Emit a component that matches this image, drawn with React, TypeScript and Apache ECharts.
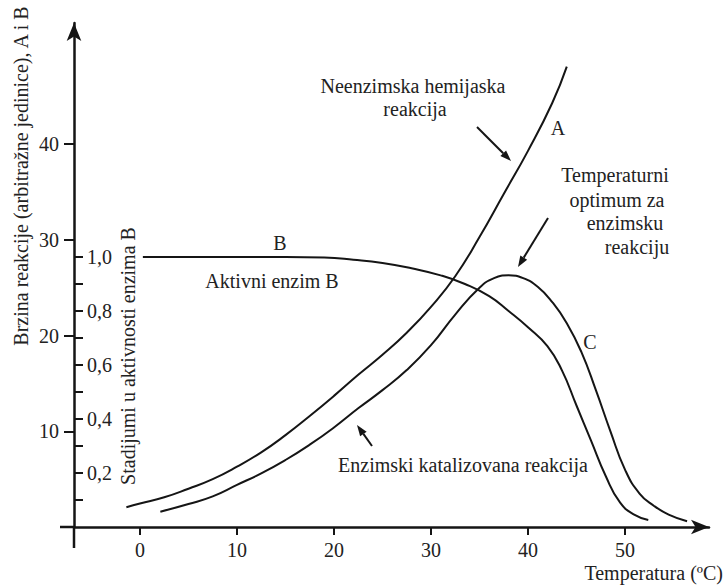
import React, { useEffect, useRef } from "react";
import * as echarts from "echarts";

// Temperature ticks (°C)
const xTicks = [0, 10, 20, 30, 40, 50];
// Reaction rate ticks (arbitrary units)
const rateTicks = [10, 20, 30, 40];
// Enzyme activity ticks
const activityTicks = [0.1, 0.2, 0.3, 0.4, 0.5, 0.6, 0.7, 0.8, 0.9, 1.0];
const activityLabels = [0.2, 0.4, 0.6, 0.8, 1.0];

// A: non-enzymatic chemical reaction [temp, rate]
const curveA: [number, number][] = [
  [-1.4, 2.06], [0, 2.45], [2.5, 3.1], [5, 4.0], [7.5, 5.0], [10, 6.3], [12.5, 7.8],
  [15, 9.6], [17.5, 11.6], [20, 13.7], [22.5, 15.9], [25, 18.0], [27.5, 20.3],
  [30, 23.0], [32.5, 26.2], [35, 30.3], [37.5, 34.8], [40, 39.3], [42.5, 44.3], [44, 48.1],
];

// C: enzyme-catalysed reaction [temp, rate]
const curveC: [number, number][] = [
  [2.1, 1.6], [5, 2.4], [7.5, 3.2], [10, 4.4], [12.5, 5.6], [15, 7.0], [17.5, 8.6],
  [20, 10.4], [22.5, 12.4], [25, 14.3], [27.5, 16.4], [30, 19.0], [32.5, 22.2],
  [35, 25.0], [36.5, 26.0], [38, 26.3], [39.5, 26.0], [41, 25.1], [42.5, 23.5],
  [44, 21.3], [45.5, 18.3], [47, 14.3], [48.5, 10.0], [50, 6.0], [51.5, 3.5],
  [53, 2.2], [54.5, 1.3], [56.4, 0.6],
];

// B: active enzyme fraction [temp, activity]
const curveB: [number, number][] = [
  [0.3, 1.0], [5, 1.0], [10, 1.0], [15, 1.0], [19, 0.998], [22, 0.99], [25, 0.978],
  [28, 0.958], [31, 0.932], [33.5, 0.9], [36, 0.855], [38, 0.8], [40, 0.74],
  [42, 0.67], [43.5, 0.58], [45, 0.45], [46.5, 0.32], [48, 0.19], [49.5, 0.09],
  [51, 0.045], [52.4, 0.026],
];

const FONT = '"Liberation Serif", "Times New Roman", serif';
const INK = "#151515";
const TXT = "#222";

function label(text: string, x: number, y: number, rotate = 0, align = "center"): any {
  return {
    type: "text",
    x,
    y,
    rotation: rotate,
    silent: true,
    style: {
      text,
      x: 0,
      y: 0,
      align,
      verticalAlign: "middle",
      fontFamily: FONT,
      fontSize: 20,
      fill: TXT,
    },
  };
}

function arrow(x1: number, y1: number, x2: number, y2: number): any {
  const ang = Math.atan2(y2 - y1, x2 - x1);
  const len = 11;
  const half = 4;
  const bx = x2 - len * Math.cos(ang);
  const by = y2 - len * Math.sin(ang);
  const px = -Math.sin(ang);
  const py = Math.cos(ang);
  return {
    type: "group",
    silent: true,
    children: [
      {
        type: "line",
        shape: { x1, y1, x2: bx, y2: by },
        style: { stroke: INK, lineWidth: 2 },
      },
      {
        type: "polygon",
        shape: {
          points: [
            [x2, y2],
            [bx + px * half, by + py * half],
            [bx - px * half, by - py * half],
          ],
        },
        style: { fill: INK },
      },
    ],
  };
}

export default function App() {
  const ref = useRef<HTMLDivElement>(null);
  useEffect(() => {
    if (!ref.current) return;
    const chart = echarts.init(ref.current, null, { renderer: "svg" });
    const lineSeries = (name: string, data: [number, number][], yAxisIndex: number) => ({
      name,
      type: "line",
      data,
      yAxisIndex,
      smooth: 0.5,
      showSymbol: false,
      symbol: "none",
      lineStyle: { color: INK, width: 2 },
      silent: true,
    });
    chart.setOption({
      animation: false,
      backgroundColor: "#fff",
      grid: { left: 74, right: 16, top: 23, bottom: 59, outerBoundsMode: "none" },
      xAxis: {
        type: "value",
        min: -6.8,
        max: 58.66,
        splitLine: { show: false },
        axisLine: {
          onZero: false,
          symbol: ["none", "arrow"],
          symbolSize: [11, 18],
          lineStyle: { color: INK, width: 2.5 },
        },
        axisTick: {
          customValues: xTicks,
          length: 8,
          lineStyle: { color: INK, width: 2 },
        },
        axisLabel: {
          customValues: xTicks,
          margin: 13,
          fontFamily: FONT,
          fontSize: 20,
          color: TXT,
        },
      },
      yAxis: [
        {
          type: "value",
          min: 0,
          max: 52.66,
          splitLine: { show: false },
          axisLine: {
            show: true,
            onZero: false,
            symbol: ["none", "arrow"],
            symbolSize: [11, 18],
            lineStyle: { color: INK, width: 2.5 },
          },
          axisTick: {
            show: true,
            customValues: rateTicks,
            length: 10,
            lineStyle: { color: INK, width: 2 },
          },
          axisLabel: {
            customValues: rateTicks,
            margin: 15,
            fontFamily: FONT,
            fontSize: 20,
            color: TXT,
          },
        },
        {
          type: "value",
          position: "left",
          offset: 0,
          min: 0,
          max: 1.8667,
          splitLine: { show: false },
          axisLine: { show: false, onZero: false },
          axisTick: {
            show: true,
            inside: true,
            customValues: activityTicks,
            length: 9,
            lineStyle: { color: INK, width: 2 },
          },
          axisLabel: {
            inside: true,
            customValues: activityLabels,
            margin: 13,
            fontFamily: FONT,
            fontSize: 20,
            color: TXT,
            formatter: (v: number) => v.toFixed(1).replace(".", ","),
          },
        },
      ],
      series: [
        lineSeries("A", curveA, 0),
        lineSeries("C", curveC, 0),
        lineSeries("B", curveB, 1),
      ],
      graphic: [
        // axis extensions past the origin
        { type: "line", silent: true, shape: { x1: 60, y1: 527, x2: 74, y2: 527 }, style: { stroke: INK, lineWidth: 2.5 } },
        { type: "line", silent: true, shape: { x1: 74, y1: 527, x2: 74, y2: 548 }, style: { stroke: INK, lineWidth: 2.5 } },
        label("Brzina reakcije (arbitražne jedinice), A i B", 21, 176, Math.PI / 2),
        label("Stadijumi u aktivnosti enzima B", 128, 356, Math.PI / 2),
        label("Neenzimska hemijaska", 413, 86),
        label("reakcija", 415, 109),
        label("A", 558, 128),
        label("Temperaturni", 615, 175),
        label("optimum za", 617, 200),
        label("enzimsku", 625, 223),
        label("reakciju", 637, 247),
        label("B", 280, 243),
        label("Aktivni enzim B", 272, 281),
        label("C", 590, 342),
        label("Enzimski katalizovana reakcija", 463, 465),
        label("Temperatura (ºC)", 723, 573, 0, "right"),
        arrow(477, 127, 511, 161),
        arrow(548, 218, 518, 267),
        arrow(372, 446, 357, 425),
      ],
    });
    return () => chart.dispose();
  }, []);
  return (
    <div
      ref={ref}
      style={{ position: "fixed", left: 0, top: 0, width: 725, height: 586, background: "#fff" }}
    />
  );
}
